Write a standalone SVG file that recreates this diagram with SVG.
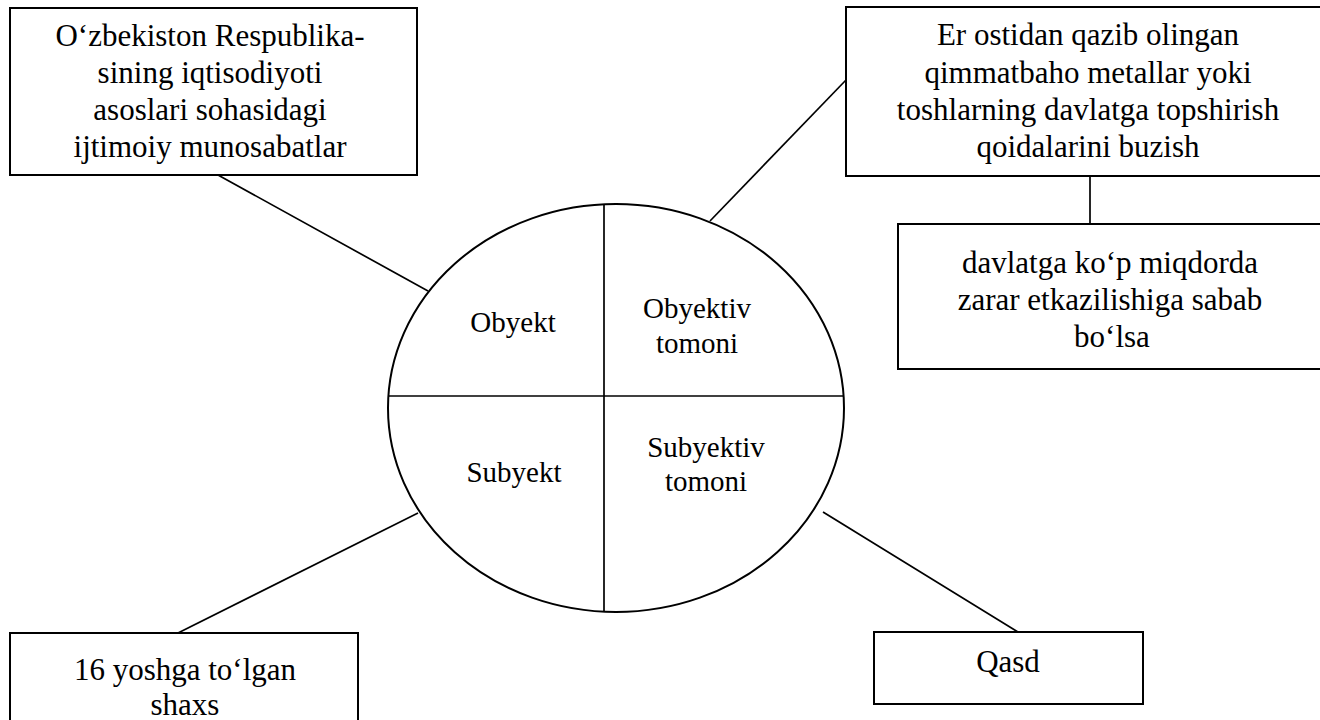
<svg xmlns="http://www.w3.org/2000/svg" width="1320" height="720" viewBox="0 0 1320 720">
<style>
.box{fill:#fff;stroke:#000;stroke-width:2}
.ln{stroke:#000;stroke-width:1.7;fill:none}
.t{font-family:'Liberation Serif','Times New Roman',serif;font-size:31px;fill:#000;text-anchor:middle}
.e{font-family:'Liberation Serif','Times New Roman',serif;font-size:29px;fill:#000;text-anchor:middle}
</style>
<rect width="1320" height="720" fill="#fff"/>
<g id="connectors">
<line class="ln" x1="218" y1="175" x2="428" y2="291"/>
<line class="ln" x1="846" y1="80" x2="710" y2="221"/>
<line class="ln" x1="1090" y1="176" x2="1090" y2="224"/>
<line class="ln" x1="418" y1="513" x2="178" y2="633"/>
<line class="ln" x1="823" y1="512" x2="1018" y2="632"/>
</g>
<g id="center">
<ellipse class="box" cx="616" cy="408" rx="228" ry="204"/>
<line class="ln" x1="604" y1="204" x2="604" y2="612"/>
<line class="ln" x1="388" y1="396" x2="844" y2="396"/>
<text class="e" x="513" y="332">Obyekt</text>
<text class="e" x="697" y="318">Obyektiv</text>
<text class="e" x="697" y="353">tomoni</text>
<text class="e" x="514" y="482">Subyekt</text>
<text class="e" x="706" y="457">Subyektiv</text>
<text class="e" x="706" y="491">tomoni</text>
</g>
<g id="obyekt-box">
<rect class="box" x="10" y="8" width="407" height="167"/>
<text class="t" x="210" y="46">O‘zbekiston Respublika-</text>
<text class="t" x="210" y="83">sining iqtisodiyoti</text>
<text class="t" x="210" y="120">asoslari sohasidagi</text>
<text class="t" x="210" y="157">ijtimoiy munosabatlar</text>
</g>
<g id="obyektiv-box">
<rect class="box" x="846" y="7" width="490" height="169"/>
<text class="t" x="1088" y="45">Er ostidan qazib olingan</text>
<text class="t" x="1088" y="83">qimmatbaho metallar yoki</text>
<text class="t" x="1088" y="120">toshlarning davlatga topshirish</text>
<text class="t" x="1088" y="157">qoidalarini buzish</text>
</g>
<g id="oqibat-box">
<rect class="box" x="898" y="224" width="440" height="145"/>
<text class="t" x="1110" y="273">davlatga ko‘p miqdorda</text>
<text class="t" x="1110" y="310">zarar etkazilishiga sabab</text>
<text class="t" x="1112" y="347">bo‘lsa</text>
</g>
<g id="subyekt-box">
<rect class="box" x="10" y="633" width="348" height="110"/>
<text class="t" x="185" y="680">16 yoshga to‘lgan</text>
<text class="t" x="185" y="715">shaxs</text>
</g>
<g id="subyektiv-box">
<rect class="box" x="874" y="632" width="269" height="72"/>
<text class="t" x="1008" y="672">Qasd</text>
</g>
</svg>
